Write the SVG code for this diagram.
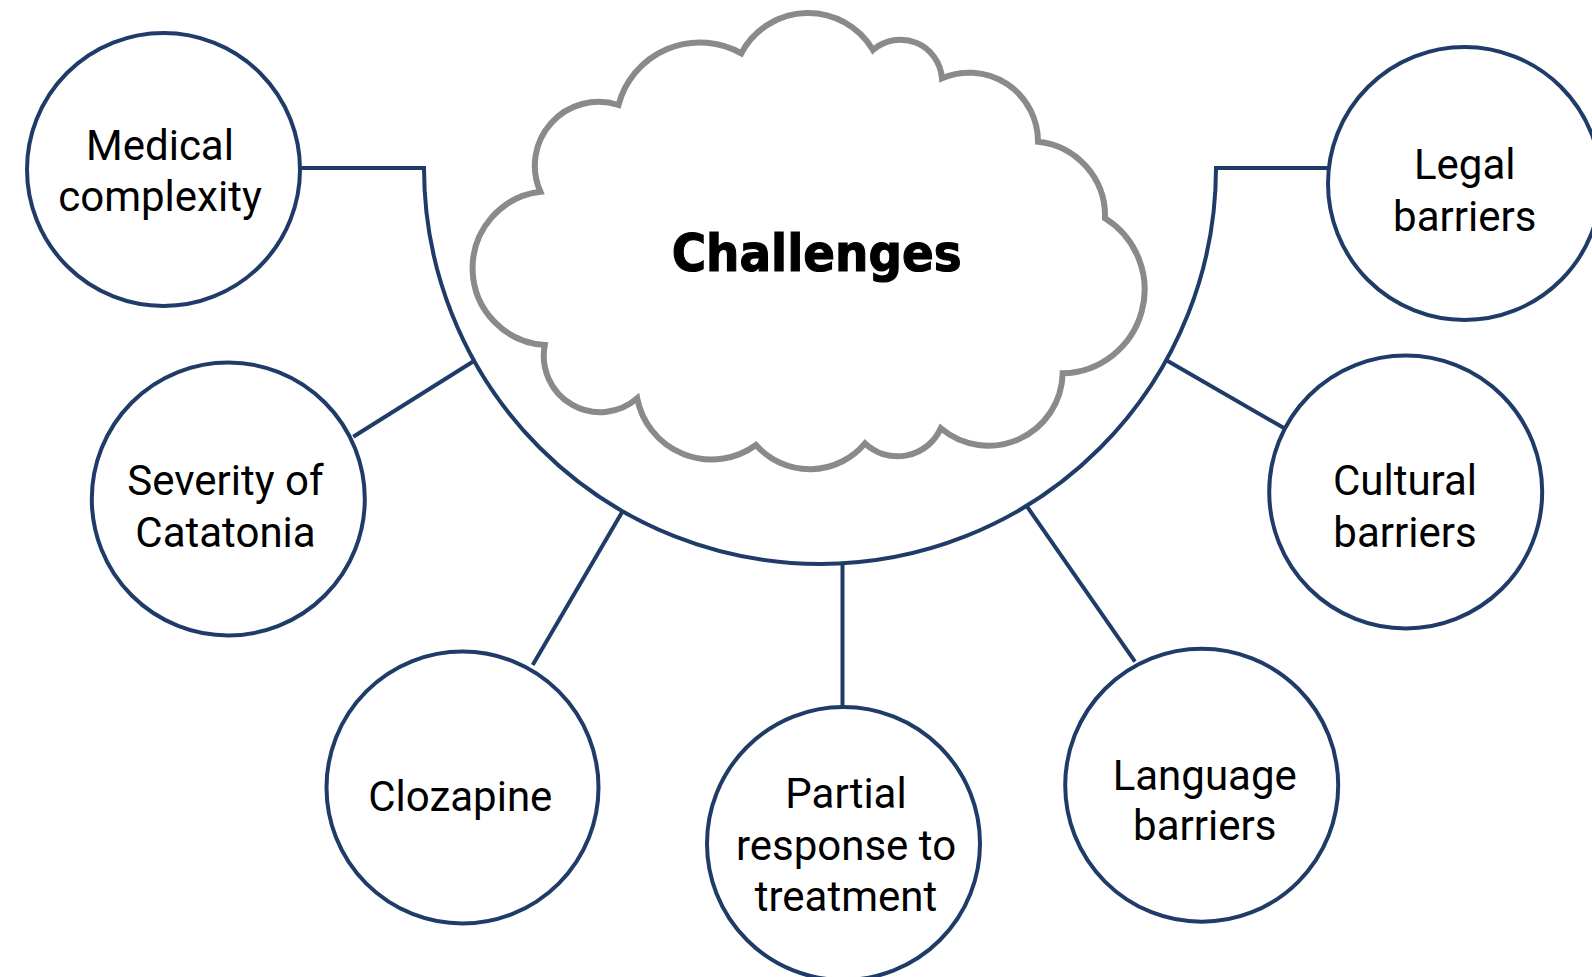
<svg xmlns="http://www.w3.org/2000/svg" width="1592" height="977" viewBox="0 0 1592 977">
  <style>
    .node { fill: #ffffff; stroke: #1f3c68; stroke-width: 4; }
    .link { fill: none; stroke: #1f3c68; stroke-width: 4; }
    .label { font-family: Roboto, "Liberation Sans", sans-serif; font-size: 42px; fill: #000000; text-anchor: middle; }
    .title { font-family: "DejaVu Sans", "Liberation Sans", sans-serif; font-weight: bold; font-size: 51px; fill: #000000; stroke: #000000; stroke-width: 1.2; text-anchor: middle; }
    .cloud { fill: #ffffff; stroke: #8a8a8a; stroke-width: 6; stroke-linejoin: miter; }
  </style>
  <rect width="1592" height="977" fill="#ffffff"/>

  <!-- connectors: the half-ring under the cloud and the spokes to each topic -->
  <g id="connectors">
    <path class="link" d="M 300 168 L 424 168 A 396 396 0 0 0 1216 168 L 1328 168"/>
    <line class="link" x1="353.3" y1="436.7" x2="474.3" y2="360.7"/>
    <line class="link" x1="532.7" y1="665" x2="622.3" y2="511.7"/>
    <line class="link" x1="842.5" y1="563" x2="842.5" y2="707"/>
    <line class="link" x1="1135" y1="661.7" x2="1026" y2="505"/>
    <line class="link" x1="1284.3" y1="428.3" x2="1166" y2="360"/>
  </g>

  <!-- central cloud -->
  <g id="challenges">
    <path class="cloud" d="M 618.5,105
      A 84.2,84.2 0 0 1 741.3,53.3
      A 75.5,75.5 0 0 1 873,50
      A 41.7,41.7 0 0 1 942,78.3
      A 68.8,68.8 0 0 1 1038,141.7
      A 74.8,74.8 0 0 1 1105,218.3
      A 83.8,83.8 0 0 1 1062.7,373.3
      A 74.2,74.2 0 0 1 940.8,428.3
      A 47.3,47.3 0 0 1 865,443.3
      A 71.9,71.9 0 0 1 756,445
      A 75.7,75.7 0 0 1 637.2,398.3
      A 56.4,56.4 0 0 1 544.8,345
      A 77,77 0 0 1 540.4,191.7
      A 63.8,63.8 0 0 1 618.5,105 Z"/>
    <text class="title" x="816.7" y="271" textLength="290" lengthAdjust="spacingAndGlyphs">Challenges</text>
  </g>

  <g id="medical-complexity">
    <circle class="node" cx="163.5" cy="169.5" r="136.5"/>
    <text class="label" x="160" y="160">Medical</text>
    <text class="label" x="160" y="210.7">complexity</text>
  </g>

  <g id="severity-of-catatonia">
    <circle class="node" cx="228.3" cy="499" r="136.5"/>
    <text class="label" x="225.5" y="495">Severity of</text>
    <text class="label" x="225.5" y="546.7">Catatonia</text>
  </g>

  <g id="clozapine">
    <circle class="node" cx="462.5" cy="787.5" r="136"/>
    <text class="label" x="460.3" y="810.7">Clozapine</text>
  </g>

  <g id="partial-response">
    <circle class="node" cx="843.5" cy="843.5" r="136.5"/>
    <text class="label" x="846" y="808.3">Partial</text>
    <text class="label" x="846" y="860">response to</text>
    <text class="label" x="846" y="910.7">treatment</text>
  </g>

  <g id="language-barriers">
    <circle class="node" cx="1201.7" cy="785.3" r="136.5"/>
    <text class="label" x="1204.7" y="790">Language</text>
    <text class="label" x="1204.7" y="840">barriers</text>
  </g>

  <g id="cultural-barriers">
    <circle class="node" cx="1405.7" cy="492" r="136.5"/>
    <text class="label" x="1405" y="495">Cultural</text>
    <text class="label" x="1405" y="546.7">barriers</text>
  </g>

  <g id="legal-barriers">
    <circle class="node" cx="1464.5" cy="183.5" r="136.5"/>
    <text class="label" x="1464.7" y="179">Legal</text>
    <text class="label" x="1464.7" y="231">barriers</text>
  </g>
</svg>
